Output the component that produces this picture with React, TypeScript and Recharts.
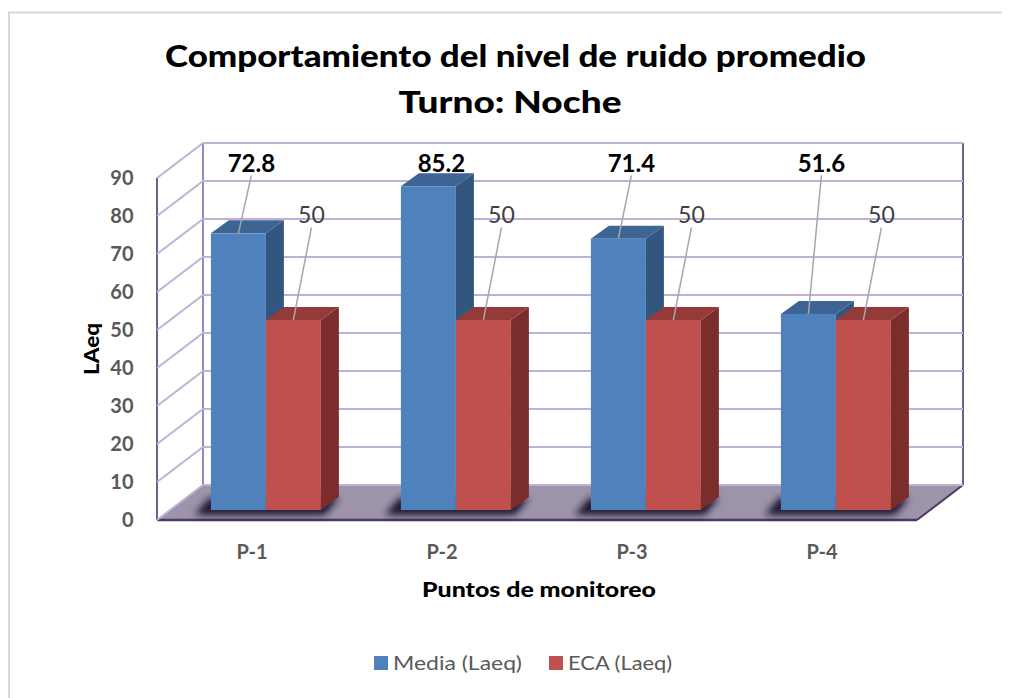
import { BarChart, Bar, XAxis, YAxis, CartesianGrid, ReferenceArea, LabelList } from "recharts";

const categories = ["P-1", "P-2", "P-3", "P-4"];
const mediaValues = [72.8, 85.2, 71.4, 51.6];
const ecaValues = [50, 50, 50, 50];
const yTicks = [0, 10, 20, 30, 40, 50, 60, 70, 80, 90];
const seriesNames = ["Media (Laeq)", "ECA (Laeq)"];

const data = categories.map((name, i) => ({
  name,
  media: mediaValues[i],
  eca: ecaValues[i],
}));

// 3D offsets relative to the plane the bar fronts sit on
const FRONT = { dx: -14, dy: 10 };
const BACK = { dx: 32, dy: -25 };
const DEPTH = { dx: 18, dy: 13 };

const FONT = "Lato, 'Open Sans', sans-serif";
const GRID = "#bfb1d6";
const EDGE = "#6f5e93";
const W = 1002;
const H = 690;

const blue = { front: "#4f81bd", top: "#3d6493", side: "#33567f" };
const red = { front: "#c0504d", top: "#943b39", side: "#7b2d2c" };

const pts = (list: number[][]) => list.map((p) => p.join(",")).join(" ");

function makeBar(c: { front: string; top: string; side: string }) {
  return (props: any) => {
    const { x, y, width: w, height: h } = props;
    if (h == null || w == null) return <g />;
    return (
      <g>
        <polygon
          points={pts([
            [x + w, y],
            [x + w + DEPTH.dx, y - DEPTH.dy],
            [x + w + DEPTH.dx, y + h - DEPTH.dy],
            [x + w, y + h],
          ])}
          fill={c.side}
        />
        <polygon
          points={pts([
            [x, y],
            [x + DEPTH.dx, y - DEPTH.dy],
            [x + w + DEPTH.dx, y - DEPTH.dy],
            [x + w, y],
          ])}
          fill={c.top}
        />
        <rect x={x} y={y} width={w} height={h} fill={c.front} />
      </g>
    );
  };
}

// soft floor shadow under each pair of bars
function GroupShadow(props: any) {
  const { x, y, width: w, height: h, index } = props;
  const b = y + h;
  const id = `shadow-blur-${index}`;
  return (
    <g>
      <defs>
        <filter id={id} x="-20%" y="-100%" width="140%" height="300%">
          <feGaussianBlur stdDeviation="3.5" />
        </filter>
      </defs>
      <polygon
        points={pts([
          [x - 16, b + 5],
          [x - 2, b - 12],
          [x + 2 * w + 18, b - 12],
          [x + 2 * w + 4, b + 5],
        ])}
        fill="#1b1530"
        filter={`url(#${id})`}
      />
    </g>
  );
}

function Walls(props: any) {
  const { x, y, width, height } = props;
  const L = x;
  const R = x + width;
  const T = y;
  const B = y + height;
  return (
    <g>
      <polygon
        points={pts([
          [L + FRONT.dx, B + FRONT.dy],
          [L + BACK.dx, B + BACK.dy],
          [R + BACK.dx, B + BACK.dy],
          [R + FRONT.dx, B + FRONT.dy],
        ])}
        fill="#9d94a9"
      />
      <line x1={L + BACK.dx} y1={T + BACK.dy} x2={L + BACK.dx} y2={B + BACK.dy} stroke="#9a88bb" strokeWidth={2} />
      <line x1={R + BACK.dx} y1={T + BACK.dy} x2={R + BACK.dx} y2={B + BACK.dy} stroke={EDGE} strokeWidth={2} />
      <line x1={L + FRONT.dx} y1={T + FRONT.dy} x2={L + FRONT.dx} y2={B + FRONT.dy} stroke={EDGE} strokeWidth={2} />
      <line x1={L + FRONT.dx} y1={B + FRONT.dy} x2={R + FRONT.dx} y2={B + FRONT.dy} stroke="#4a3a64" strokeWidth={2.5} />
      <line x1={R + FRONT.dx} y1={B + FRONT.dy} x2={R + BACK.dx} y2={B + BACK.dy} stroke="#4a3a64" strokeWidth={2} />
    </g>
  );
}

function GridLine(props: any) {
  const { x1, y1, x2, index } = props;
  return (
    <g key={`gl-${index}`}>
      <line x1={x1 + BACK.dx} y1={y1 + BACK.dy} x2={x2 + BACK.dx} y2={y1 + BACK.dy} stroke={GRID} strokeWidth={2} />
      <line x1={x1 + FRONT.dx} y1={y1 + FRONT.dy} x2={x1 + BACK.dx} y2={y1 + BACK.dy} stroke={GRID} strokeWidth={2} />
    </g>
  );
}

function makeLabel(opts: { level: number; dx: number; bold: boolean; color: string; size: number; gap: number }) {
  return (props: any) => {
    const vb = props.viewBox || props;
    const { x, y, width: w, height: h } = vb;
    const value = Number(props.value);
    if (!value || h == null) return <g />;
    const k = h / value;
    const bottom = y + h;
    const cx = x + w / 2;
    const lx = cx + opts.dx;
    const ly = bottom - opts.level * k;
    const lineStart = ly + opts.gap;
    return (
      <g>
        {y - lineStart > 14 && (
          <line x1={lx} y1={lineStart} x2={cx} y2={y} stroke="#a6a6a6" strokeWidth={1.5} />
        )}
        <text
          x={lx}
          y={ly}
          textAnchor="middle"
          dominantBaseline="central"
          fontFamily={FONT}
          fontWeight={opts.bold ? 700 : 400}
          fontSize={opts.size}
          fill={opts.color}
        >
          {String(props.value)}
        </text>
      </g>
    );
  };
}

const XTick = (props: any) => {
  const { x, y, payload } = props;
  return (
    <text x={x + FRONT.dx} y={y + 49} textAnchor="middle" fontFamily={FONT} fontWeight={700} fontSize={20} fill="#595959">
      {payload.value}
    </text>
  );
};

const YTick = (props: any) => {
  const { x, y, payload } = props;
  return (
    <text x={x - 37.5} y={y + FRONT.dy + 7} textAnchor="end" fontFamily={FONT} fontWeight={700} fontSize={20} fill="#595959">
      {payload.value}
    </text>
  );
};

function Overlay() {
  return (
    <svg width={W} height={H} style={{ position: "absolute", left: 0, top: 0, pointerEvents: "none" }}>
      <line x1={0} y1={4.5} x2={W} y2={4.5} stroke="#d9d9d9" strokeWidth={2} />
      <line x1={1} y1={4} x2={1} y2={H} stroke="#d9d9d9" strokeWidth={2} />
      <text x={507.5} y={59} textAnchor="middle" fontFamily={FONT} fontWeight={900} fontSize={30} fill="#000" textLength={701} lengthAdjust="spacingAndGlyphs">
        Comportamiento del nivel de ruido promedio
      </text>
      <text x={502} y={105} textAnchor="middle" fontFamily={FONT} fontWeight={900} fontSize={30} fill="#000" textLength={223} lengthAdjust="spacingAndGlyphs">
        Turno: Noche
      </text>
      <text x={91} y={341} transform="rotate(-90 91 341)" textAnchor="middle" fontFamily={FONT} fontWeight={900} fontSize={21} fill="#000" textLength={52} lengthAdjust="spacingAndGlyphs">
        LAeq
      </text>
      <text x={531} y={589} textAnchor="middle" fontFamily={FONT} fontWeight={900} fontSize={21} fill="#000" textLength={234} lengthAdjust="spacingAndGlyphs">
        Puntos de monitoreo
      </text>
      <rect x={366} y={648} width={14} height={14} fill={blue.front} />
      <text x={385} y={662} fontFamily={FONT} fontSize={20} fill="#595959" textLength={129} lengthAdjust="spacingAndGlyphs">
        {seriesNames[0]}
      </text>
      <rect x={541} y={648} width={14} height={14} fill={red.front} />
      <text x={560} y={662} fontFamily={FONT} fontSize={20} fill="#595959" textLength={104} lengthAdjust="spacingAndGlyphs">
        {seriesNames[1]}
      </text>
    </svg>
  );
}

export default function App() {
  return (
    <div style={{ position: "relative", width: W, height: H }}>
      <BarChart
        width={W}
        height={H}
        data={data}
        margin={{ top: 160, right: 79, bottom: 187, left: 162 }}
        barGap={0}
        barCategoryGap="21%"
      >
        <ReferenceArea y1={0} y2={90} ifOverflow="visible" shape={Walls} zIndex={-150} />
        <CartesianGrid vertical={false} horizontal={GridLine} />
        <XAxis
          dataKey="name"
          height={1}
          axisLine={false}
          tickLine={false}
          tickSize={0}
          tickMargin={0}
          interval={0}
          tick={XTick}
        />
        <YAxis
          width={1}
          domain={[0, 90]}
          ticks={yTicks}
          interval={0}
          axisLine={false}
          tickLine={false}
          tickSize={0}
          tickMargin={0}
          tick={YTick}
        />
        <Bar dataKey="media" name={seriesNames[0]} fill={blue.front} shape={makeBar(blue)} background={GroupShadow} isAnimationActive={false}>
          <LabelList
            dataKey="media"
            content={makeLabel({ level: 91.5, dx: 13, bold: true, color: "#000", size: 24, gap: 13 })}
          />
        </Bar>
        <Bar dataKey="eca" name={seriesNames[1]} fill={red.front} shape={makeBar(red)} isAnimationActive={false}>
          <LabelList
            dataKey="eca"
            content={makeLabel({ level: 78, dx: 18, bold: false, color: "#404040", size: 23, gap: 14 })}
          />
        </Bar>
      </BarChart>
      <Overlay />
    </div>
  );
}
